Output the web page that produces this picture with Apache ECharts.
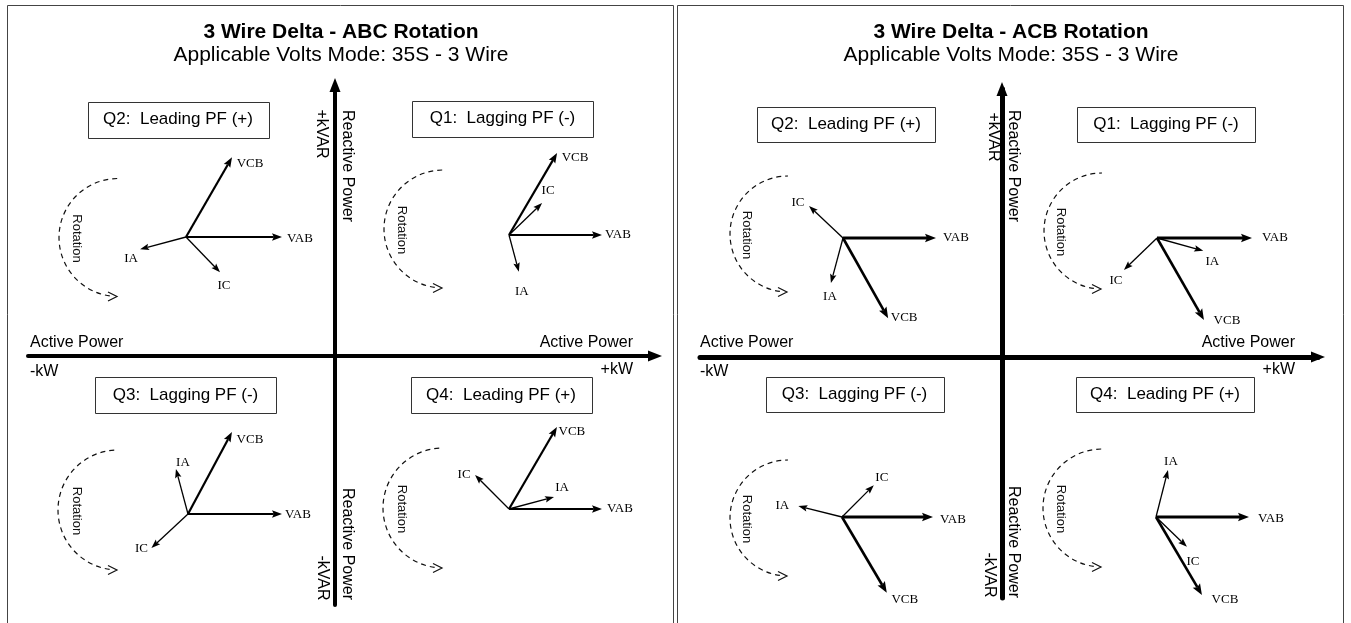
<!DOCTYPE html>
<html><head><meta charset="utf-8">
<script src="https://cdn.jsdelivr.net/npm/echarts@6/dist/echarts.min.js"></script>
<style>html,body{margin:0;padding:0;background:#fff}#c{width:1351px;height:623px}</style>
</head><body><div id="c"></div>
<script>
// ---------- DATA ----------
const panelTitles = ['3 Wire Delta - ABC Rotation', '3 Wire Delta - ACB Rotation'];
const panelSubtitles = ['Applicable Volts Mode: 35S - 3 Wire', 'Applicable Volts Mode: 35S - 3 Wire'];
const quadrantNames = ['Q1:  Lagging PF (-)', 'Q2:  Leading PF (+)', 'Q3:  Lagging PF (-)', 'Q4:  Leading PF (+)'];
const phasorNames = ['VAB', 'VCB', 'IA', 'IC'];
// angle in degrees, counter-clockwise from +kW; rows = Q1..Q4, cols = VAB, VCB, IA, IC
const abcAngles = [[0, 59.6, -75, 44], [0, 60, 195, -46], [0, 61.8, 105, 223], [0, 59.7, 15, 135]];
const abcMagnitudes = [[93, 95, 38, 46], [96, 92, 47.5, 49], [94, 93, 46.6, 50], [93, 95, 46.6, 48]];
const acbAngles = [[0, -60.2, -15.5, 224], [0, -60.6, 255, 136.7], [0, -59.4, 166, 45], [0, -59.5, 75.7, -44]];
const acbMagnitudes = [[95, 94.5, 48, 46], [93, 92, 46.6, 46.7], [91, 88, 45, 45], [93, 90.5, 48.5, 43]];
const axisTexts = ['Active Power', '-kW', 'Active Power', '+kW', '+kVAR', 'Reactive Power', 'Reactive Power', '-kVAR'];
const rotationText = 'Rotation';

// ---------- LAYOUT ----------
const FONT_SANS = '"Liberation Sans", Arial, sans-serif';
const FONT_SERIF = '"Liberation Serif", "Times New Roman", serif';
const layout = [
  {
    grid: {left: 28, top: 85, width: 627, height: 520}, x: [-307, 320], y: [-249, 271], axisWidth: 4,
    titleX: 341, border: [7.5, 5.5, 666, 640],
    origins: [[174, 121], [-149, 119], [-147, -158], [174, -153]],
    arcs: [[108, 127, 59], [-217, 118.5, 59], [-217, -154, 60], [108, -152, 60]],
    boxes: [[167.5, 237.5], [-157, 236.5], [-149.5, -39], [166, -39]], boxSize: [181, 36],
    labelOffsets: [
      [[16, 0], [18, 5], [3, 20], [6, -12]],
      [[18, 2], [18, 6], [-9, 9], [4, 13]],
      [[16, 1], [18, 8], [7, -6], [-10, 0]],
      [[18, 0], [15, 5], [8, -9], [-11, 0]]
    ],
    widths: [1.8, 2.2, 1.3, 1.3], heads: [[10, 7.5], [10, 7.5], [9, 6.5], [9, 6.5]],
    axisTextPos: [[-305, 13, 'left', 0], [-305, -16, 'left', 0], [298, 13, 'right', 0], [298, -14, 'right', 0],
      [-14, 222, 'center', -90], [12, 190, 'center', -90], [12, -188, 'center', -90], [-13, -222, 'center', -90]]
  },
  {
    grid: {left: 700, top: 89, width: 618, height: 509}, x: [-302, 316], y: [-241, 268], axisWidth: 5,
    titleX: 1011, border: [677.5, 5.5, 666, 640],
    origins: [[155, 119], [-159, 119], [-160, -160], [154, -160]],
    arcs: [[100, 126, 58], [-214, 123, 58], [-214, -161, 58], [100, -151, 59]],
    boxes: [[164, 232.5], [-156, 232.5], [-147.5, -37.5], [163, -37.5]], boxSize: [178, 35],
    labelOffsets: [
      [[23, 0], [23, 1], [9, 11], [-8, 11]],
      [[20, 0], [16, -1], [-1, 14], [-11, -3]],
      [[20, 3], [18, 7], [-16, -1], [8, -8]],
      [[22, 2], [23, 5], [3, -8], [6, 15]]
    ],
    widths: [3.2, 2.6, 1.3, 1.3], heads: [[11, 8.5], [11, 8.5], [9, 6.5], [9, 6.5]],
    axisTextPos: [[-302, 14, 'left', 0], [-302, -15, 'left', 0], [293, 14, 'right', 0], [293, -13, 'right', 0],
      [-9, 220, 'center', -90], [11, 191, 'center', -90], [11, -185, 'center', -90], [-13, -218, 'center', -90]]
  }
];

const panels = [
  {angles: abcAngles, mags: abcMagnitudes},
  {angles: acbAngles, mags: acbMagnitudes}
];

const chart = echarts.init(document.getElementById('c'));
const series = [];
const titles = [];
const graphics = [];

panels.forEach((P, pi) => {
  const L = layout[pi];
  titles.push({text: panelTitles[pi], left: L.titleX, top: 32, textAlign: 'center', textVerticalAlign: 'middle', padding: 0,
    textStyle: {fontSize: 21, fontWeight: 'bold', color: '#000', fontFamily: FONT_SANS}});
  titles.push({text: panelSubtitles[pi], left: L.titleX, top: 55, textAlign: 'center', textVerticalAlign: 'middle', padding: 0,
    textStyle: {fontSize: 21, fontWeight: 'normal', color: '#000', fontFamily: FONT_SANS}});
  graphics.push({type: 'rect', silent: true, z: -10, shape: {x: L.border[0], y: L.border[1], width: L.border[2], height: L.border[3]},
    style: {fill: 'none', stroke: '#444', lineWidth: 1}});

  // phasors
  const items = [];
  for (let q = 0; q < 4; q++) for (let k = 0; k < 4; k++) {
    items.push({q, k, ox: L.origins[q][0], oy: L.origins[q][1], ang: P.angles[q][k], mag: P.mags[q][k]});
  }
  series.push({
    type: 'custom', coordinateSystem: 'cartesian2d', xAxisIndex: pi, yAxisIndex: pi, silent: true, clip: false, z: 5,
    data: items.map(it => [it.ox, it.oy]),
    renderItem: (params, api) => {
      const it = items[params.dataIndex];
      const a = it.ang * Math.PI / 180;
      const o = api.coord([api.value(0), api.value(1)]);
      const t = api.coord([api.value(0) + it.mag * Math.cos(a), api.value(1) + it.mag * Math.sin(a)]);
      const dx = t[0] - o[0], dy = t[1] - o[1];
      const len = Math.hypot(dx, dy);
      const ux = dx / len, uy = dy / len, nx = -uy, ny = ux;
      const hl = L.heads[it.k][0], hw = L.heads[it.k][1] / 2;
      const bx = t[0] - ux * hl, by = t[1] - uy * hl;
      const mx = t[0] - ux * hl * 0.82, my = t[1] - uy * hl * 0.82;
      const off = L.labelOffsets[it.q][it.k];
      return {type: 'group', children: [
        {type: 'line', shape: {x1: o[0], y1: o[1], x2: mx, y2: my}, style: {stroke: '#000', lineWidth: L.widths[it.k], lineCap: 'butt'}},
        {type: 'polygon', shape: {points: [[t[0], t[1]], [bx + nx * hw, by + ny * hw], [mx, my], [bx - nx * hw, by - ny * hw]]}, style: {fill: '#000'}},
        {type: 'text', x: t[0] + off[0], y: t[1] + off[1], style: {text: phasorNames[it.k], fill: '#000', fontSize: 13, fontFamily: FONT_SERIF, align: 'center', verticalAlign: 'middle'}}
      ]};
    }
  });

  // rotation arcs
  series.push({
    type: 'custom', coordinateSystem: 'cartesian2d', xAxisIndex: pi, yAxisIndex: pi, silent: true, clip: false, z: 4,
    data: L.arcs,
    renderItem: (params, api) => {
      const c = api.coord([api.value(0), api.value(1)]);
      const r = api.size([api.value(2), 0])[0];
      const by = c[1] + r;
      return {type: 'group', children: [
        {type: 'arc', shape: {cx: c[0], cy: c[1], r: r, startAngle: Math.PI / 2 + 0.14, endAngle: Math.PI * 1.5, clockwise: true},
          style: {stroke: '#111', fill: 'none', lineWidth: 1.2, lineDash: [5, 4]}},
        {type: 'polyline', shape: {points: [[c[0] - 10, by - 4.5], [c[0] - 1, by], [c[0] - 10, by + 4.5]]}, style: {stroke: '#111', fill: 'none', lineWidth: 1.2}},
        {type: 'text', x: c[0] - 41, y: c[1] + 1, rotation: -Math.PI / 2, style: {text: rotationText, fill: '#111', fontSize: 13, fontFamily: FONT_SANS, align: 'center', verticalAlign: 'middle'}}
      ]};
    }
  });

  // quadrant boxes
  series.push({
    type: 'custom', coordinateSystem: 'cartesian2d', xAxisIndex: pi, yAxisIndex: pi, silent: true, clip: false, z: 4,
    data: L.boxes,
    renderItem: (params, api) => {
      const c = api.coord([api.value(0), api.value(1)]);
      const w = L.boxSize[0], h = L.boxSize[1];
      return {type: 'group', children: [
        {type: 'rect', shape: {x: Math.round(c[0] - w / 2) + 0.5, y: Math.round(c[1] - h / 2) + 0.5, width: w, height: h}, style: {fill: '#fff', stroke: '#333', lineWidth: 1}},
        {type: 'text', x: c[0], y: c[1], style: {text: quadrantNames[params.dataIndex], fill: '#000', fontSize: 17, fontFamily: FONT_SANS, align: 'center', verticalAlign: 'middle'}}
      ]};
    }
  });

  // axis texts
  series.push({
    type: 'custom', coordinateSystem: 'cartesian2d', xAxisIndex: pi, yAxisIndex: pi, silent: true, clip: false, z: 4,
    data: L.axisTextPos.map(p => [p[0], p[1]]),
    renderItem: (params, api) => {
      const p = L.axisTextPos[params.dataIndex];
      const c = api.coord([api.value(0), api.value(1)]);
      return {type: 'text', x: c[0], y: c[1], rotation: p[3] * Math.PI / 180,
        style: {text: axisTexts[params.dataIndex], fill: '#000', fontSize: 16, fontFamily: FONT_SANS, align: p[2], verticalAlign: 'middle'}};
    }
  });
});

chart.setOption({
  animation: false,
  backgroundColor: '#fff',
  title: titles,
  graphic: graphics,
  grid: layout.map(L => Object.assign({containLabel: false, outerBoundsMode: 'none'}, L.grid)),
  xAxis: layout.map((L, i) => ({
    gridIndex: i, type: 'value', min: L.x[0], max: L.x[1],
    axisLine: {show: true, onZero: true, symbol: ['none', 'triangle'], symbolSize: [11, 14], lineStyle: {color: '#000', width: L.axisWidth}},
    axisTick: {show: false}, axisLabel: {show: false}, splitLine: {show: false}
  })),
  yAxis: layout.map((L, i) => ({
    gridIndex: i, type: 'value', min: L.y[0], max: L.y[1],
    axisLine: {show: true, onZero: true, symbol: ['none', 'triangle'], symbolSize: [11, 14], lineStyle: {color: '#000', width: L.axisWidth}},
    axisTick: {show: false}, axisLabel: {show: false}, splitLine: {show: false}
  })),
  series: series
});
</script></body></html>
